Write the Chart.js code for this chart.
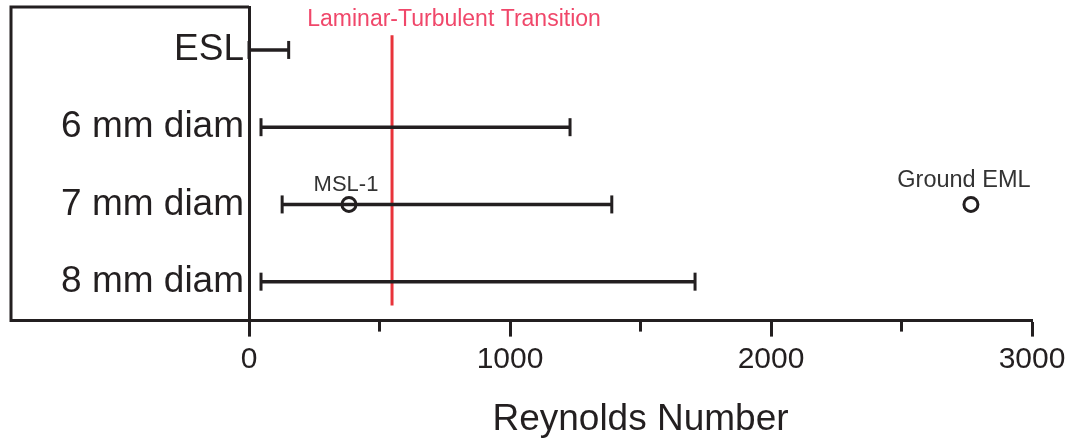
<!DOCTYPE html>
<html>
<head>
<meta charset="utf-8">
<script src="https://cdn.jsdelivr.net/npm/chart.js@4.4.1/dist/chart.umd.min.js"></script>
<style>
  html, body { margin: 0; padding: 0; background: #fff; }
  #wrap { width: 1071px; height: 440px; position: relative; }
</style>
</head>
<body>
<div id="wrap"><canvas id="c"></canvas></div>
<script>
// ---- data ----
const categories = ['ESL', '6 mm diam', '7 mm diam', '8 mm diam'];
const rangeMin = [0, 46, 127, 46];
const rangeMax = [152, 1230, 1390, 1709];
const pointNames = ['MSL-1', 'Ground EML'];
const pointValues = [383, 2766];
const pointCategory = [2, 2];
const transitionValue = 548;
const transitionSpan = [-0.19, 3.31];
const transitionLabel = 'Laminar-Turbulent Transition';
const xTickValues = [0, 500, 1000, 1500, 2000, 2500, 3000];
const xLabel = 'Reynolds Number';

const DARK = '#231f20';
const FONT = "'Liberation Sans', Arial, Helvetica, sans-serif";

const datasets = [];
categories.forEach((c, i) => {
  datasets.push({
    label: c,
    data: [{x: rangeMin[i], y: i}, {x: rangeMax[i], y: i}],
    showLine: true,
    borderColor: DARK,
    borderWidth: 3.5,
    pointStyle: 'line',
    rotation: 90,
    pointRadius: 9,
    pointBorderWidth: 3,
    pointBorderColor: DARK,
    clip: false
  });
});
datasets.push({
  label: 'transition',
  data: transitionSpan.map(v => ({x: transitionValue, y: v})),
  showLine: true,
  borderColor: '#e8333a',
  borderWidth: 3,
  pointRadius: 0
});
datasets.push({
  label: 'points',
  data: pointValues.map((v, i) => ({x: v, y: pointCategory[i]})),
  showLine: false,
  pointStyle: 'circle',
  pointRadius: 7,
  pointBorderWidth: 3,
  pointBorderColor: DARK,
  pointBackgroundColor: 'rgba(0,0,0,0)'
});

const decor = {
  id: 'decor',
  afterDraw(chart) {
    const ctx = chart.ctx;
    const xs = chart.scales.x, ys = chart.scales.y;
    const ca = chart.chartArea;
    ctx.save();
    // box around labels
    ctx.strokeStyle = DARK;
    ctx.lineWidth = 3;
    ctx.beginPath();
    ctx.moveTo(ca.left, ca.top);
    ctx.lineTo(ys.left, ca.top);
    ctx.lineTo(ys.left, ca.bottom);
    ctx.lineTo(ca.left, ca.bottom);
    ctx.stroke();
    // minor ticks
    xs.ticks.forEach(t => {
      if (t.value % 1000 !== 0) {
        const px = xs.getPixelForValue(t.value);
        ctx.beginPath();
        ctx.moveTo(px, ca.bottom);
        ctx.lineTo(px, ca.bottom + 11);
        ctx.stroke();
      }
    });
    // transition label
    ctx.fillStyle = '#f0476a';
    ctx.font = '23px ' + FONT;
    ctx.textAlign = 'center';
    ctx.textBaseline = 'alphabetic';
    ctx.fillText(transitionLabel, xs.getPixelForValue(transitionValue) + 62, ca.top + 19);
    // point labels
    const meta = chart.getDatasetMeta(datasets.length - 1);
    ctx.fillStyle = '#333333';
    meta.data.forEach((el, i) => {
      ctx.font = (i === 0 ? '22px ' : '23.5px ') + FONT;
      ctx.fillText(pointNames[i], el.x - (i === 0 ? 3 : 7), el.y - (i === 0 ? 13 : 17));
    });
    ctx.restore();
  }
};

new Chart(document.getElementById('c'), {
  type: 'scatter',
  data: { datasets },
  options: {
    responsive: true,
    maintainAspectRatio: false,
    animation: false,
    layout: { autoPadding: false, padding: { left: 11, top: 7, right: 39, bottom: -2 } },
    plugins: { legend: { display: false }, tooltip: { enabled: false } },
    scales: {
      x: {
        type: 'linear',
        min: 0, max: 3000,
        afterBuildTicks: s => { s.ticks = xTickValues.map(v => ({value: v})); },
        grid: {
          display: true, drawOnChartArea: false, drawTicks: true,
          tickLength: 16, tickWidth: 3,
          tickColor: c => (c.tick && c.tick.value % 1000 === 0) ? DARK : 'rgba(0,0,0,0)'
        },
        border: { display: true, color: DARK, width: 3 },
        ticks: {
          color: DARK, font: { family: FONT, size: 30 }, padding: 5,
          maxRotation: 0, autoSkip: false,
          callback: v => (v % 1000 === 0 ? String(v) : '')
        },
        title: { display: true, text: xLabel, color: DARK, font: { family: FONT, size: 37 }, padding: { top: 15, bottom: 0 } }
      },
      y: {
        type: 'linear',
        reverse: true,
        min: -0.556, max: 3.504,
        afterBuildTicks: s => { s.ticks = categories.map((c, i) => ({value: i})); },
        afterFit: s => { s.width = 238; s.paddingTop = 0; s.paddingBottom = 0; },
        grid: { display: false, drawTicks: false },
        border: { display: true, color: DARK, width: 3 },
        ticks: {
          color: DARK, font: { family: FONT, size: 37 }, padding: 5,
          autoSkip: false,
          callback: v => categories[v] !== undefined ? categories[v] : ''
        }
      }
    }
  },
  plugins: [decor]
});
</script>
</body>
</html>
